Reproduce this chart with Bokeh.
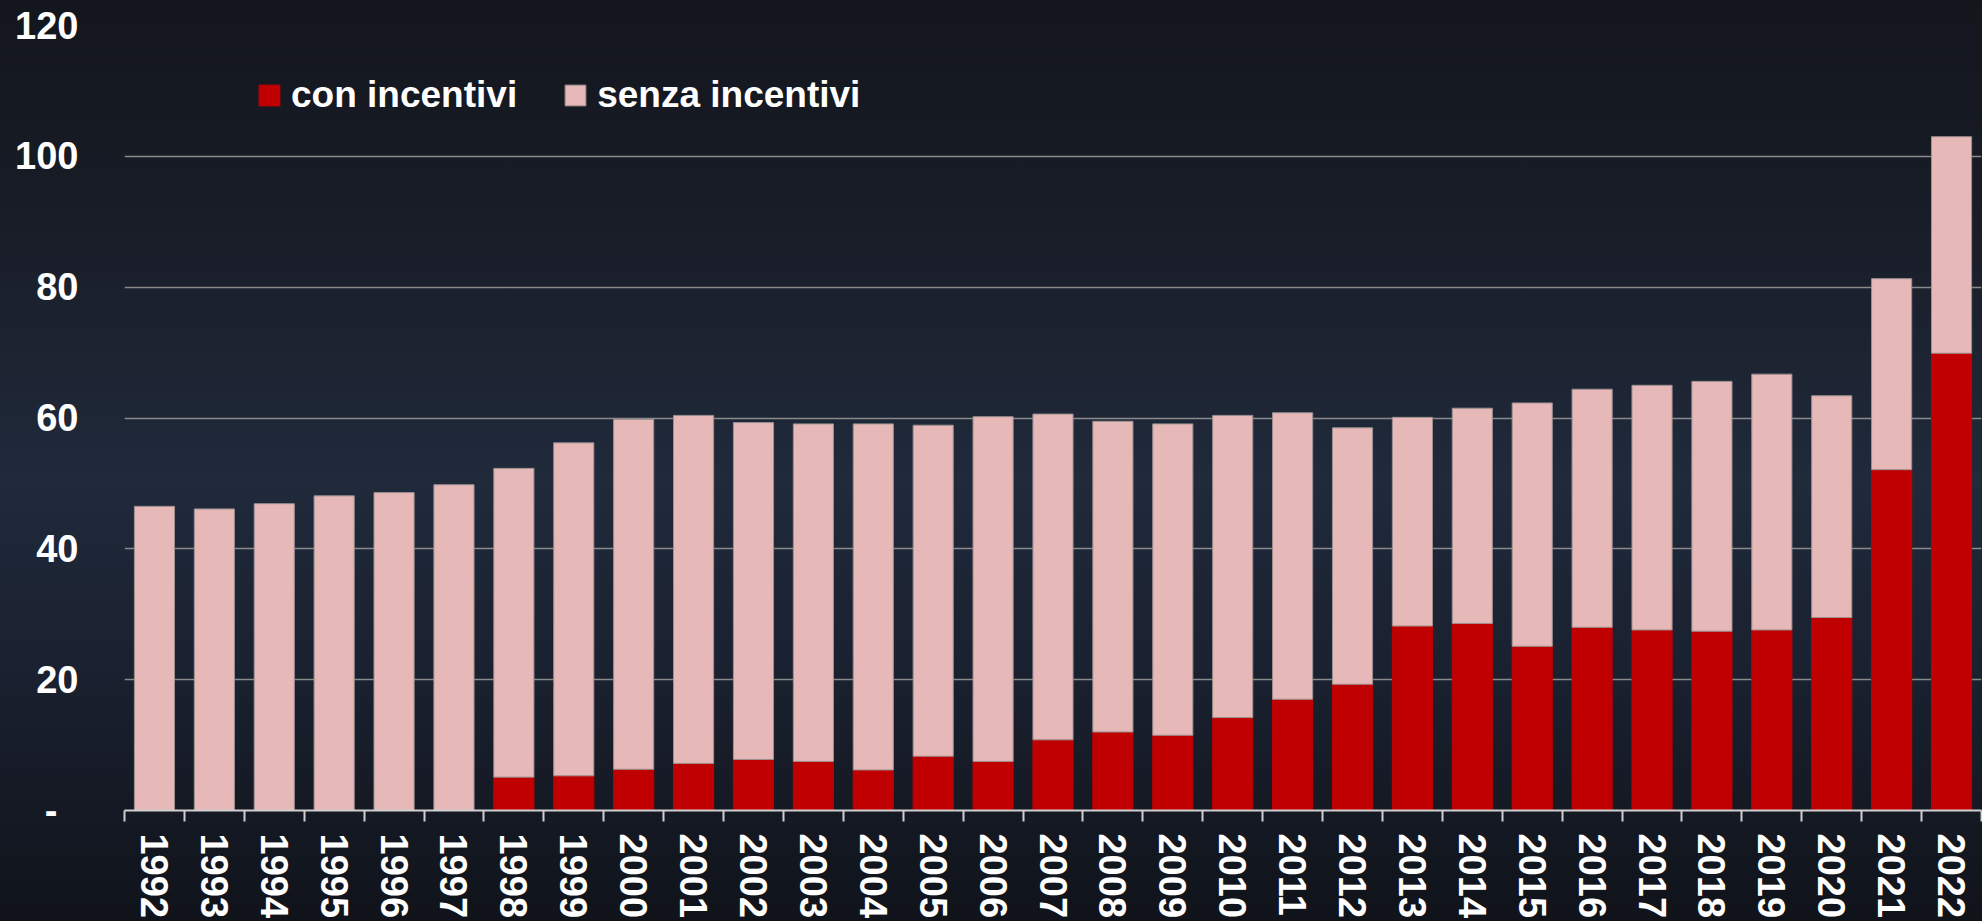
from bokeh.plotting import figure
from bokeh.models import (FixedTicker, CustomJSTickFormatter, Legend, LegendItem,
                          Range1d, ColumnDataSource, GlobalInlineStyleSheet)
from bokeh.embed import file_html
from bokeh.resources import INLINE

# ---------------- data ----------------
years = ["1992", "1993", "1994", "1995", "1996", "1997", "1998", "1999", "2000", "2001",
         "2002", "2003", "2004", "2005", "2006", "2007", "2008", "2009", "2010", "2011",
         "2012", "2013", "2014", "2015", "2016", "2017", "2018", "2019", "2020", "2021",
         "2022"]
con_incentivi = [0, 0, 0, 0, 0, 0, 5.1, 5.3, 6.3, 7.2,
                 7.8, 7.5, 6.2, 8.3, 7.5, 10.8, 12.0, 11.5, 14.2, 17.0,
                 19.3, 28.2, 28.6, 25.1, 28.0, 27.6, 27.4, 27.6, 29.5, 52.1,
                 69.9]
senza_incentivi = [46.5, 46.1, 46.9, 48.1, 48.6, 49.8, 47.2, 50.9, 53.5, 53.2,
                   51.5, 51.6, 52.9, 50.6, 52.7, 49.8, 47.5, 47.6, 46.2, 43.8,
                   39.2, 31.9, 32.9, 37.2, 36.4, 37.4, 38.2, 39.1, 33.9, 29.2,
                   33.1]
y_ticks = [0, 20, 40, 60, 80, 100, 120]
series_labels = ["con incentivi", "senza incentivi"]

RED = "#c00000"
PINK = "#e6b8b7"
FONT = "Liberation Sans"

src = ColumnDataSource(dict(
    x=list(range(len(years))),
    con=con_incentivi,
    senza=senza_incentivi,
))

page_css = GlobalInlineStyleSheet(css="""
html { min-height: 100%;
  background: linear-gradient(180deg, #13161d 0%, #181c26 22%, #202a3b 52%, #1a2130 72%, #10131a 100%); }
body { background: transparent; }
""")

p = figure(width=1982, height=921, output_backend="svg", toolbar_location=None,
           x_range=Range1d(-0.5, len(years) - 0.5), y_range=Range1d(0, 120),
           min_border_left=124, min_border_right=1, min_border_top=25, min_border_bottom=0,
           background_fill_color=None, border_fill_color=None, outline_line_color=None)
p.stylesheets = [page_css]

rs = p.vbar_stack(["con", "senza"], x="x", width=0.67, source=src,
                  fill_color=[RED, PINK], line_color=[RED, "#9b8f90"], line_width=1)

# axes
p.xaxis.ticker = FixedTicker(ticks=list(range(len(years))),
                             minor_ticks=[i - 0.5 for i in range(len(years) + 1)])
p.xaxis.formatter = CustomJSTickFormatter(
    args=dict(labels=years),
    code="const i = Math.round(tick); return (i >= 0 && i < labels.length) ? labels[i] : '';")
p.xaxis.axis_line_color = "#d0d0d0"
p.xaxis.axis_line_width = 2
p.xaxis.major_tick_out = 0
p.xaxis.major_tick_in = 0
p.xaxis.minor_tick_out = 11
p.xaxis.minor_tick_in = 0
p.xaxis.minor_tick_line_color = "#d0d0d0"
p.xaxis.minor_tick_line_width = 2
p.xaxis.major_label_orientation = "vertical"
p.xaxis.major_label_standoff = 12
p.xaxis.major_label_text_font = FONT
p.xaxis.major_label_text_font_style = "bold"
p.xaxis.major_label_text_font_size = "38px"
p.xaxis.major_label_text_color = "white"

p.yaxis.ticker = FixedTicker(ticks=y_ticks)
p.yaxis.formatter = CustomJSTickFormatter(
    code="return tick == 0 ? '-\\u00a0\\u00a0' : tick.toFixed(0);")
p.yaxis.axis_line_color = None
p.yaxis.major_tick_line_color = None
p.yaxis.minor_tick_line_color = None
p.yaxis.major_tick_out = 0
p.yaxis.major_label_standoff = 46
p.yaxis.major_label_text_font = FONT
p.yaxis.major_label_text_font_style = "bold"
p.yaxis.major_label_text_font_size = "38px"
p.yaxis.major_label_text_color = "white"

p.xgrid.grid_line_color = None
p.ygrid.grid_line_color = "#8a8a8a"
p.ygrid.grid_line_width = 1.5

legend = Legend(items=[LegendItem(label=series_labels[0], renderers=[rs[0]]),
                       LegendItem(label=series_labels[1], renderers=[rs[1]])],
                orientation="horizontal", location=(132, 694),
                padding=0, margin=0, spacing=45, label_standoff=9,
                glyph_width=26, glyph_height=26,
                label_text_font=FONT, label_text_font_style="bold",
                label_text_font_size="37px", label_text_color="white",
                background_fill_alpha=0, border_line_color=None)
p.add_layout(legend)

open("out.html", "w").write(file_html(p, INLINE))
